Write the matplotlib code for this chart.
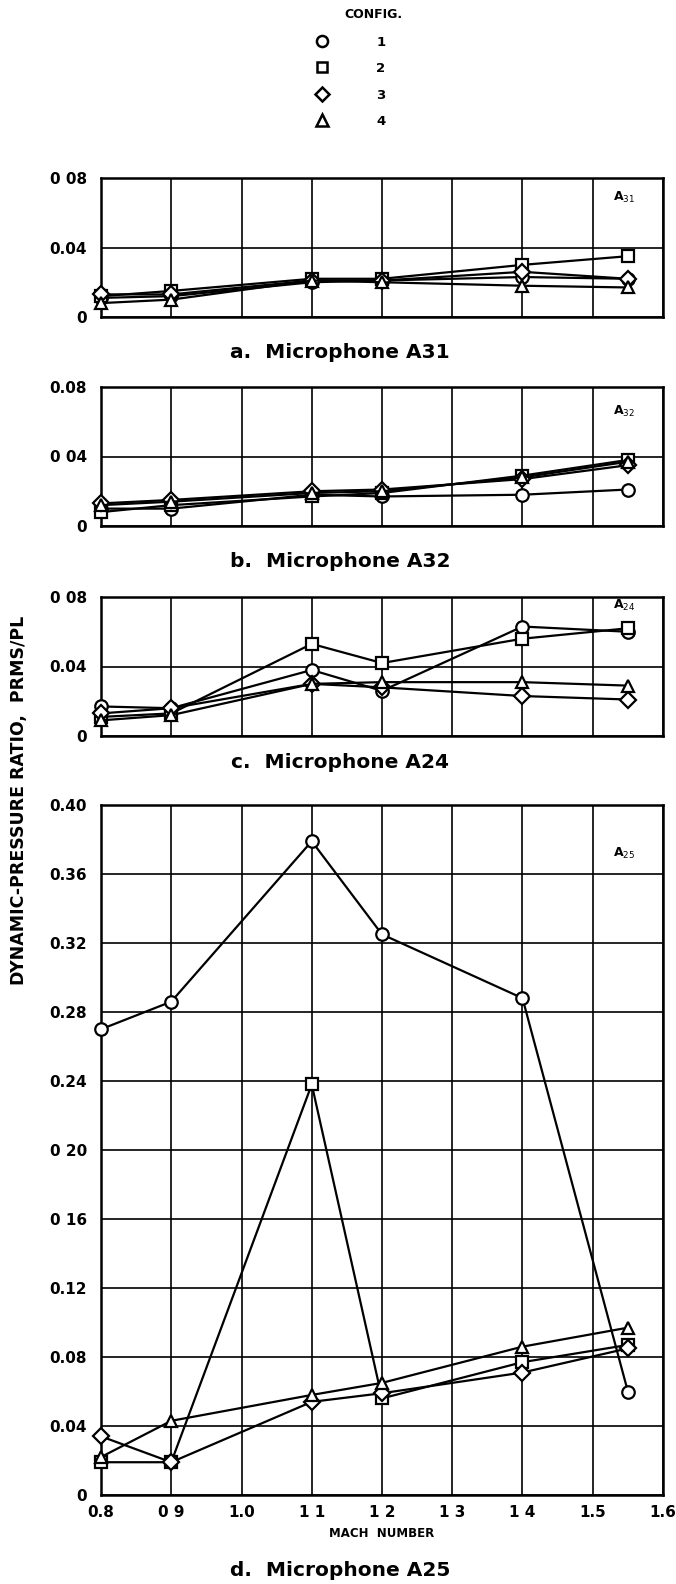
import numpy as np
import matplotlib
import matplotlib.pyplot as plt
from matplotlib.lines import Line2D

matplotlib.use('Agg')

# Mach numbers where the four configurations were measured
MACH = [0.8, 0.9, 1.1, 1.2, 1.4, 1.55]

CONFIGS = ['1', '2', '3', '4']
MARKERS = ['o', 's', 'D', '^']
MSIZES  = [9, 8, 8.5, 9]

# dynamic-pressure ratio, one list per config (1, 2, 3, 4)
A31 = [
    [0.011, 0.012, 0.020, 0.021, 0.023, 0.022],
    [0.012, 0.015, 0.022, 0.022, 0.030, 0.035],
    [0.013, 0.013, 0.021, 0.021, 0.026, 0.022],
    [0.008, 0.010, 0.021, 0.020, 0.018, 0.017],
]
A32 = [
    [0.010, 0.010, 0.018, 0.017, 0.018, 0.021],
    [0.008, 0.012, 0.017, 0.019, 0.029, 0.038],
    [0.013, 0.015, 0.020, 0.021, 0.027, 0.035],
    [0.012, 0.014, 0.019, 0.020, 0.028, 0.037],
]
A24 = [
    [0.017, 0.016, 0.038, 0.026, 0.063, 0.060],
    [0.011, 0.013, 0.053, 0.042, 0.056, 0.062],
    [0.013, 0.016, 0.030, 0.028, 0.023, 0.021],
    [0.009, 0.012, 0.030, 0.031, 0.031, 0.029],
]
A25 = [
    [0.270, 0.286, 0.379, 0.325, 0.288, 0.060],
    [0.019, 0.019, 0.238, 0.056, 0.077, 0.087],
    [0.034, 0.019, 0.054, 0.059, 0.071, 0.085],
    [0.022, 0.043, 0.058, 0.065, 0.086, 0.097],
]

PANEL_DATA   = [A31, A32, A24, A25]
PANEL_TAGS   = ['A$_{31}$', 'A$_{32}$', 'A$_{24}$', 'A$_{25}$']
PANEL_TITLES = ['a.  Microphone A31', 'b.  Microphone A32',
                'c.  Microphone A24', 'd.  Microphone A25']

Y_TICKS_SMALL  = [0, 0.04, 0.08]
Y_LABELS_SMALL = [['0', '0.04', '0 08'],
                  ['0', '0 04', '0.08'],
                  ['0', '0.04', '0 08']]
Y_TICKS_D  = [0, 0.04, 0.08, 0.12, 0.16, 0.20, 0.24, 0.28, 0.32, 0.36, 0.40]
Y_LABELS_D = ['0', '0.04', '0.08', '0.12', '0 16', '0 20',
              '0.24', '0.28', '0.32', '0.36', '0.40']
X_TICKS  = [0.8, 0.9, 1.0, 1.1, 1.2, 1.3, 1.4, 1.5, 1.6]
X_LABELS = ['0.8', '0 9', '1.0', '1 1', '1 2', '1 3', '1 4', '1.5', '1.6']

W, H = 676, 1584
fig = plt.figure(figsize=(W / 100, H / 100), dpi=100)

# panel boxes in pixels: (top, bottom)
LEFT, RIGHT = 101, 663
PANEL_PX = [(178, 317), (387, 526), (597, 736), (805, 1495)]
TITLE_Y  = [353, 561, 763, 1570]
TAG_Y    = [0.069, 0.066, 0.075, 0.372]

def px_rect(top, bottom):
    return [LEFT / W, 1 - bottom / H, (RIGHT - LEFT) / W, (bottom - top) / H]

for i, (top, bottom) in enumerate(PANEL_PX):
    ax = fig.add_axes(px_rect(top, bottom))
    data = PANEL_DATA[i]

    for vals, mk, ms in zip(data, MARKERS, MSIZES):
        ax.plot(MACH, vals, color='black', lw=1.6, marker=mk, ms=ms,
                mfc='white', mec='black', mew=1.6, zorder=3, clip_on=False)

    ax.set_xlim(0.8, 1.6)
    ax.set_xticks(X_TICKS)
    if i < 3:
        ax.set_ylim(0, 0.08)
        ax.set_yticks(Y_TICKS_SMALL)
        ax.set_yticklabels(Y_LABELS_SMALL[i])
        ax.set_xticklabels([])
    else:
        ax.set_ylim(0, 0.40)
        ax.set_yticks(Y_TICKS_D)
        ax.set_yticklabels(Y_LABELS_D)
        ax.set_xticklabels(X_LABELS)
        ax.set_xlabel('MACH  NUMBER', fontsize=8.5, fontweight='bold', labelpad=5)

    ax.grid(True, color='black', lw=1.2)
    ax.set_axisbelow(True)
    ax.tick_params(axis='y', length=0, pad=10, labelsize=11)
    ax.tick_params(axis='x', length=0, pad=7, labelsize=11)
    for lab in ax.get_xticklabels() + ax.get_yticklabels():
        lab.set_fontweight('bold')
    for sp in ax.spines.values():
        sp.set_linewidth(1.8)

    ax.text(1.545, TAG_Y[i], PANEL_TAGS[i], ha='center', va='center',
            fontsize=9, fontweight='bold')
    fig.text(340 / W, 1 - TITLE_Y[i] / H, PANEL_TITLES[i], ha='center',
             va='center', fontsize=14.5, fontweight='bold')

fig.text(19 / W, 1 - 800 / H, 'DYNAMIC-PRESSURE RATIO,  PRMS/PL', rotation=90,
         ha='center', va='center', fontsize=12.5, fontweight='bold')

# legend at the top
fig.text(373 / W, 1 - 14 / H, 'CONFIG.', ha='center', va='center',
         fontsize=9, fontweight='bold')
handles = [Line2D([], [], ls='none', marker=mk, ms=ms - 1, mfc='white',
                  mec='black', mew=1.8) for mk, ms in zip(MARKERS, MSIZES)]
fig.legend(handles, CONFIGS, loc='upper left',
           bbox_to_anchor=(307 / W, 1 - 29 / H), frameon=False,
           handlelength=1.2, handletextpad=3.55, labelspacing=1.02,
           borderpad=0, prop={'weight': 'bold', 'size': 9.5})

fig.savefig('out.png', dpi=100)
